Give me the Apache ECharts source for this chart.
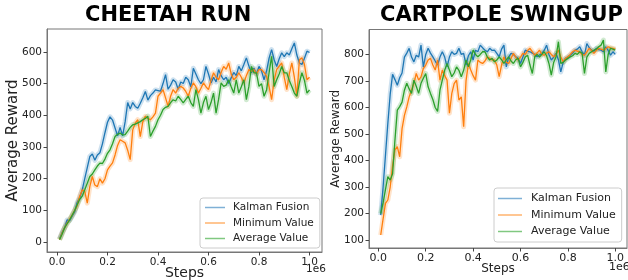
<!DOCTYPE html>
<html>
<head>
<meta charset="utf-8">
<script src="https://cdn.jsdelivr.net/npm/echarts@6.0.0/dist/echarts.min.js"></script>
<style>
  html, body { margin: 0; padding: 0; background: #fff; }
  #chart { width: 628px; height: 280px; }
</style>
</head>
<body>
<div id="chart"></div>
<script>
// training steps (x 1e6), shared by both panels
const steps = [
  0.01, 0.02, 0.03, 0.04, 0.05, 0.06, 0.07, 0.08, 0.09, 0.10,
  0.11, 0.12, 0.13, 0.14, 0.15, 0.16, 0.17, 0.18, 0.19, 0.20,
  0.21, 0.22, 0.23, 0.24, 0.25, 0.26, 0.27, 0.28, 0.29, 0.30,
  0.31, 0.32, 0.33, 0.34, 0.35, 0.36, 0.37, 0.38, 0.39, 0.40,
  0.41, 0.42, 0.43, 0.44, 0.45, 0.46, 0.47, 0.48, 0.49, 0.50,
  0.51, 0.52, 0.53, 0.54, 0.55, 0.56, 0.57, 0.58, 0.59, 0.60,
  0.61, 0.62, 0.63, 0.64, 0.65, 0.66, 0.67, 0.68, 0.69, 0.70,
  0.71, 0.72, 0.73, 0.74, 0.75, 0.76, 0.77, 0.78, 0.79, 0.80,
  0.81, 0.82, 0.83, 0.84, 0.85, 0.86, 0.87, 0.88, 0.89, 0.90,
  0.91, 0.92, 0.93, 0.94, 0.95, 0.96, 0.97, 0.98, 0.99, 1.00
]

const seriesNames = ['Kalman Fusion', 'Minimum Value', 'Average Value']
const colors = ['#1f77b4', '#ff7f0e', '#2ca02c']
const legendColors = ['#7fb0d6', '#ffb36e', '#80c880']

// ---- Cheetah Run ----
const cheetahKalman = [
  10, 30, 45, 70, 68, 82, 95, 125, 140, 165,
  200, 235, 270, 278, 258, 275, 282, 310, 345, 378,
  395, 385, 360, 335, 362, 335, 380, 440, 420, 440,
  428, 422, 438, 455, 475, 448, 462, 470, 480, 478,
  476, 500, 528, 482, 495, 512, 505, 482, 505, 500,
  520, 512, 490, 548, 530, 512, 500, 512, 554, 530,
  502, 520, 505, 544, 525, 512, 520, 500, 518, 535,
  525, 554, 540, 560, 581, 555, 534, 548, 530, 554,
  540, 512, 540, 580, 607, 575, 554, 578, 597, 585,
  597, 590, 610, 628, 590, 565, 560, 580, 602, 598
]
const cheetahMin = [
  8, 28, 45, 60, 72, 85, 100, 115, 145, 165,
  160, 123, 175, 207, 180, 175, 200, 186, 200, 228,
  240, 250, 275, 305, 323, 318, 313, 290, 260, 354,
  375, 386, 333, 380, 397, 390, 386, 395, 407, 460,
  470, 481, 455, 428, 460, 481, 470, 485, 491, 486,
  475, 460, 485, 502, 490, 470, 485, 502, 490, 481,
  510, 534, 520, 512, 535, 554, 545, 565, 530, 512,
  520, 534, 520, 502, 525, 544, 538, 544, 530, 544,
  544, 535, 523, 490, 449, 510, 544, 555, 565, 520,
  481, 530, 565, 520, 460, 575, 581, 560, 512, 520
]
const cheetahAvg = [
  8, 25, 45, 58, 70, 85, 100, 118, 135, 145,
  165, 186, 207, 215, 228, 240, 249, 248, 262, 280,
  291, 310, 333, 340, 344, 338, 339, 350, 362, 370,
  372, 376, 380, 386, 390, 397, 333, 350, 365, 386,
  400, 418, 425, 428, 440, 449, 445, 460, 450, 439,
  450, 460, 440, 428, 481, 450, 407, 440, 460, 418,
  440, 470, 407, 450, 502, 491, 495, 512, 490, 470,
  512, 470, 490, 512, 449, 491, 554, 534, 534, 491,
  500, 460, 480, 534, 586, 491, 512, 530, 554, 534,
  534, 510, 491, 470, 460, 502, 534, 510, 470, 480
]

// ---- Cartpole Swingup ----
const cartpoleKalman = [
  194, 300, 420, 540, 650, 725, 705, 684, 712, 730,
  790, 805, 823, 790, 772, 797, 790, 835, 753, 800,
  823, 805, 791, 775, 760, 790, 810, 790, 753, 790,
  810, 800, 804, 823, 800, 804, 760, 795, 810, 779,
  816, 810, 835, 825, 816, 810, 823, 815, 816, 804,
  791, 820, 835, 753, 790, 804, 800, 791, 785, 766,
  790, 816, 812, 810, 805, 800, 791, 798, 804, 815,
  835, 800, 779, 790, 804, 780, 734, 770, 785, 790,
  797, 805, 816, 820, 829, 810, 797, 841, 825, 816,
  812, 823, 818, 816, 810, 829, 815, 797, 810, 800
]
const cartpoleMin = [
  119, 180, 238, 251, 300, 380, 440, 452, 414, 520,
  570, 602, 640, 665, 691, 728, 703, 715, 747, 760,
  779, 785, 760, 741, 779, 703, 741, 720, 703, 578,
  653, 690, 703, 628, 640, 527, 700, 766, 741, 720,
  703, 779, 770, 766, 775, 791, 785, 779, 779, 760,
  716, 760, 791, 770, 766, 785, 804, 790, 779, 790,
  804, 800, 815, 823, 810, 797, 805, 816, 800, 797,
  805, 810, 800, 791, 800, 816, 790, 772, 785, 791,
  800, 810, 816, 812, 810, 800, 797, 810, 823, 815,
  804, 815, 823, 820, 816, 822, 829, 825, 823, 820
]
const cartpoleAvg = [
  200, 240, 290, 339, 326, 350, 477, 590, 603, 620,
  665, 691, 670, 653, 703, 680, 653, 691, 710, 728,
  678, 653, 630, 600, 585, 665, 703, 740, 766, 741,
  716, 730, 753, 740, 716, 740, 779, 753, 780, 816,
  800, 791, 800, 810, 810, 790, 779, 785, 772, 779,
  791, 780, 766, 780, 791, 775, 766, 780, 785, 753,
  770, 790, 797, 760, 728, 791, 800, 790, 800, 810,
  795, 766, 722, 770, 791, 848, 766, 770, 779, 785,
  791, 795, 804, 800, 810, 805, 728, 790, 804, 810,
  816, 820, 829, 835, 854, 734, 800, 823, 820, 816
]

const leftTicks = [0, 100, 200, 300, 400, 500, 600]
const rightTicks = [100, 200, 300, 400, 500, 600, 700, 800]
const xTicks = [0, 0.2, 0.4, 0.6, 0.8, 1.0]

const pair = (vals) => steps.map((s, i) => [s, vals[i]])

const panels = [
  { title: 'CHEETAH RUN', data: [cheetahKalman, cheetahMin, cheetahAvg] },
  { title: 'CARTPOLE SWINGUP', data: [cartpoleKalman, cartpoleMin, cartpoleAvg] },
]

const series = []
panels.forEach((p, g) => {
  // shaded band behind each curve
  p.data.forEach((vals, k) => {
    series.push({
      type: 'line', name: seriesNames[k] + ' band', xAxisIndex: g, yAxisIndex: g,
      data: pair(vals), showSymbol: false, silent: true, z: 1,
      lineStyle: { width: 5, color: colors[k], opacity: 0.22, join: 'round' },
    })
  })
  p.data.forEach((vals, k) => {
    series.push({
      type: 'line', name: seriesNames[k], xAxisIndex: g, yAxisIndex: g,
      data: pair(vals), showSymbol: false, z: 2 + k,
      itemStyle: { color: legendColors[k] },
      lineStyle: { width: 1.3, color: colors[k] },
    })
  })
})

const axisCommon = {
  axisLine: { show: true, onZero: false, lineStyle: { color: '#777' } },
  splitLine: { show: false },
  nameMoveOverlap: false,
}

const xAxis = [0, 1].map((g) => ({
  ...axisCommon,
  gridIndex: g, type: 'value', min: -0.0395, max: 1.0495,
  axisLabel: { customValues: xTicks, formatter: (v) => v.toFixed(1), fontSize: g ? 11 : 10.5, color: '#222', margin: 5, fontFamily: 'DejaVu Sans' },
  axisTick: { customValues: xTicks, length: 3.5, lineStyle: { color: '#444' } },
  name: 'Steps', nameLocation: 'middle', nameGap: g ? 15 : 14,
  nameTextStyle: { fontSize: g ? 12 : 14, color: '#222', fontFamily: 'DejaVu Sans', verticalAlign: 'top' },
}))

const yAxis = [
  {
    ...axisCommon, gridIndex: 0, type: 'value', min: -31, max: 672,
    axisLabel: { customValues: leftTicks, fontSize: 10.5, color: '#222', margin: 5, fontFamily: 'DejaVu Sans' },
    axisTick: { customValues: leftTicks, length: 3.5, lineStyle: { color: '#444' } },
    name: 'Average Reward', nameLocation: 'middle', nameGap: 26,
    nameTextStyle: { fontSize: 15, color: '#222', fontFamily: 'DejaVu Sans' },
  },
  {
    ...axisCommon, gridIndex: 1, type: 'value', min: 70, max: 894,
    axisLabel: { customValues: rightTicks, fontSize: 10.5, color: '#222', margin: 5, fontFamily: 'DejaVu Sans' },
    axisTick: { customValues: rightTicks, length: 3.5, lineStyle: { color: '#444' } },
    name: 'Average Reward', nameLocation: 'middle', nameGap: 27,
    nameTextStyle: { fontSize: 12, color: '#222', fontFamily: 'DejaVu Sans' },
  },
]

const legendBase = {
  orient: 'vertical', data: seriesNames, icon: 'rect',
  itemHeight: 1.5, selectedMode: false,
  backgroundColor: 'rgba(255,255,255,0.85)', borderColor: '#ccc', borderWidth: 1, borderRadius: 3,
}

const option = {
  animation: false,
  grid: [
    { left: 47, top: 29, width: 275, height: 223, show: true, borderColor: '#777', borderWidth: 1, outerBoundsMode: 'none' },
    { left: 369, top: 29.5, width: 258, height: 218.5, show: true, borderColor: '#777', borderWidth: 1, outerBoundsMode: 'none' },
  ],
  xAxis, yAxis,
  legend: [
    { ...legendBase, left: 200, top: 198, itemWidth: 20, itemGap: 4.5, padding: [4, 6, 4, 5],
      textStyle: { fontSize: 10.5, color: '#222', fontFamily: 'DejaVu Sans', padding: [0, 0, 0, 3] } },
    { ...legendBase, left: 494, top: 188, itemWidth: 24, itemGap: 5.5, padding: [5, 6, 5, 4],
      textStyle: { fontSize: 11, color: '#222', fontFamily: 'DejaVu Sans', padding: [0, 0, 0, 4] } },
  ],
  graphic: [
    { type: 'text', left: 85, top: 5, style: { text: panels[0].title, font: 'bold 21px "DejaVu Sans"', fill: '#000' } },
    { type: 'text', left: 380, top: 5, style: { text: panels[1].title, font: 'bold 21px "DejaVu Sans"', fill: '#000' } },
    { type: 'text', left: 306, top: 264, style: { text: '1e6', font: '10.5px "DejaVu Sans"', fill: '#222' } },
    { type: 'text', left: 609, top: 262, style: { text: '1e6', font: '11px "DejaVu Sans"', fill: '#222' } },
  ],
  series,
}

const chart = echarts.init(document.getElementById('chart'))
chart.setOption(option)
</script>
</body>
</html>
